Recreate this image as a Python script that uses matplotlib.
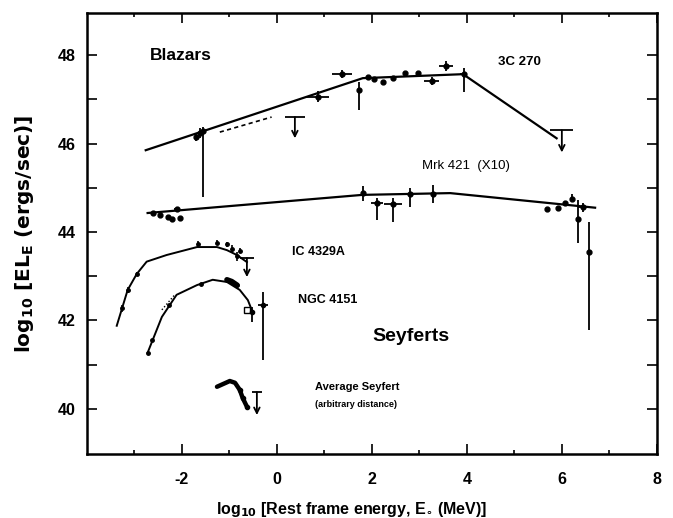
import matplotlib.pyplot as plt

plt.rcParams["font.family"] = ["Liberation Sans", "DejaVu Sans"]
plt.rcParams["font.weight"] = "bold"
plt.rcParams["axes.labelweight"] = "bold"
plt.rcParams["mathtext.default"] = "bf"

# ---- Blazars -------------------------------------------------------------
# 3C 270: broken power-law fit and measurements
c3_fit_x = [-2.76, 1.81, 3.92, 5.89]
c3_fit_y = [45.85, 47.48, 47.57, 46.12]
c3_dash_x = [-1.20, -0.11]
c3_dash_y = [46.26, 46.60]
c3_x = [-1.71, -1.62, -1.56, 0.86, 1.37, 1.73, 1.91, 2.04, 2.23, 2.44, 2.69, 2.97, 3.26, 3.56, 3.93]
c3_y = [46.15, 46.24, 46.28, 47.05, 47.57, 47.21, 47.50, 47.46, 47.39, 47.48, 47.59, 47.59, 47.41, 47.75, 47.57]
c3_xerr = [0, 0, 0, 0.24, 0.21, 0, 0, 0, 0, 0, 0, 0, 0.16, 0.14, 0.08]
c3_ylo = [0.10, 0.12, 1.49, 0.12, 0.09, 0.45, 0, 0, 0, 0, 0, 0, 0.09, 0.11, 0.41]
c3_yhi = [0.10, 0.12, 0.09, 0.15, 0.09, 0.18, 0, 0, 0, 0, 0, 0, 0.09, 0.11, 0.14]

# Mrk 421 (x10)
mrk_fit_x = [-2.72, 1.80, 3.65, 6.70]
mrk_fit_y = [44.43, 44.84, 44.88, 44.55]
mrk_x = [-2.60, -2.45, -2.30, -2.21, -2.10, -2.04, 1.81, 2.11, 2.44, 2.80, 3.28,
         5.68, 5.92, 6.06, 6.21, 6.34, 6.44, 6.57]
mrk_y = [44.42, 44.38, 44.33, 44.30, 44.52, 44.32, 44.88, 44.66, 44.63, 44.86, 44.86,
         44.52, 44.54, 44.66, 44.75, 44.29, 44.56, 43.55]
mrk_xerr = [0, 0, 0, 0, 0.06, 0, 0, 0.12, 0.19, 0, 0, 0, 0, 0, 0, 0, 0.10, 0]
mrk_ylo = [0, 0, 0, 0.08, 0.05, 0.08, 0.17, 0.39, 0.40, 0.30, 0.20, 0, 0, 0.05, 0.05, 0.54, 0.10, 1.76]
mrk_yhi = [0, 0, 0, 0, 0.05, 0, 0.17, 0.12, 0.14, 0.13, 0.20, 0, 0, 0.05, 0.12, 0.43, 0.10, 0.68]

# ---- Seyferts ------------------------------------------------------------
ic_fit_x = [-3.37, -3.14, -2.95, -2.74, -2.32, -1.68, -1.26, -1.05, -0.84, -0.63]
ic_fit_y = [41.88, 42.69, 43.05, 43.33, 43.48, 43.66, 43.66, 43.59, 43.48, 43.32]
ic_x = [-3.26, -3.14, -2.95, -1.66, -1.26, -1.05, -0.95, -0.84, -0.78]
ic_y = [42.28, 42.69, 43.05, 43.72, 43.76, 43.72, 43.62, 43.45, 43.58]
ic_yerr = [0.08, 0.06, 0.05, 0.08, 0.06, 0.06, 0.08, 0.10, 0.06]

ngc_fit_x = [-2.72, -2.42, -2.11, -1.68, -1.35, -1.05, -0.78, -0.61, -0.51]
ngc_fit_y = [41.27, 42.08, 42.58, 42.80, 42.92, 42.87, 42.69, 42.46, 42.19]
ngc_dot_x = [-2.42, -2.15]
ngc_dot_y = [42.24, 42.58]
ngc_x = [-2.72, -2.62, -2.27, -1.60, -1.05, -0.95, -0.84]
ngc_y = [41.27, 41.55, 42.35, 42.82, 42.92, 42.88, 42.80]
ngc_err_x = [-0.53, -0.29]
ngc_err_y = [42.19, 42.35]
ngc_err_xerr = [0, 0.10]
ngc_err_ylo = [0.22, 1.24]
ngc_err_yhi = [0.11, 0.29]
ngc_sq_x = [-0.63]
ngc_sq_y = [42.24]

avg_x = [-1.26, -0.99, -0.88, -0.78, -0.72, -0.63]
avg_y = [40.50, 40.63, 40.59, 40.43, 40.25, 40.05]

# upper limits: position, half width of the bar, length of the arrow
ul_x = [0.38, 6.00, -0.63, -0.42]
ul_y = [46.60, 46.30, 43.41, 40.38]
ul_half = [0.21, 0.24, 0.14, 0.11]
ul_drop = [0.48, 0.50, 0.43, 0.52]

x_ticks = [-3, -2, -1, 0, 1, 2, 3, 4, 5, 6, 7, 8]
x_labels = ["-2", "0", "2", "4", "6", "8"]
y_ticks = [40, 42, 44, 46, 48]


def draw_points(ax, x, y, xerr, ylo, yhi, ms=3.5):
    ax.errorbar(x, y, xerr=xerr, yerr=[ylo, yhi], fmt="o", color="black",
                ms=ms, elinewidth=1.3, capsize=0)


fig = plt.figure(figsize=(6.73, 5.18), dpi=100)
ax = fig.add_axes([0.129, 0.1236, 0.847, 0.851])

ax.plot(c3_fit_x, c3_fit_y, color="black", lw=1.6)
ax.plot(c3_dash_x, c3_dash_y, color="black", lw=1.2, ls=(0, (2.5, 2)))
draw_points(ax, c3_x, c3_y, c3_xerr, c3_ylo, c3_yhi)

ax.plot(mrk_fit_x, mrk_fit_y, color="black", lw=1.6)
draw_points(ax, mrk_x, mrk_y, mrk_xerr, mrk_ylo, mrk_yhi)

ax.plot(ic_fit_x, ic_fit_y, color="black", lw=1.4)
ax.errorbar(ic_x, ic_y, yerr=ic_yerr, fmt="o", color="black", ms=2.5,
            elinewidth=1.2, capsize=0)

ax.plot(ngc_fit_x, ngc_fit_y, color="black", lw=1.4)
ax.plot(ngc_dot_x, ngc_dot_y, color="black", lw=1.0, ls=(0, (1, 1.5)))
ax.plot(ngc_x, ngc_y, "o", color="black", ms=2.5)
ax.plot(ngc_x[-3:], ngc_y[-3:], color="black", lw=4, solid_capstyle="round")
draw_points(ax, ngc_err_x, ngc_err_y, ngc_err_xerr, ngc_err_ylo, ngc_err_yhi, ms=3)
ax.plot(ngc_sq_x, ngc_sq_y, "s", mfc="white", mec="black", ms=5, mew=1.0)

ax.plot(avg_x, avg_y, color="black", lw=3.2, solid_capstyle="round")
ax.plot(avg_x[3:], avg_y[3:], "o", color="black", ms=3)

for x, y, h, d in zip(ul_x, ul_y, ul_half, ul_drop):
    ax.hlines(y, x - h, x + h, color="black", lw=1.3)
    ax.annotate("", xy=(x, y - d), xytext=(x, y),
                arrowprops=dict(arrowstyle="->", color="black", lw=1.3,
                                mutation_scale=10, shrinkA=0, shrinkB=0))

ax.text(-2.67, 48.0, "Blazars", fontsize=12.5, va="center")
ax.text(4.65, 47.84, "3C 270", fontsize=9.5, va="center")
ax.text(3.05, 45.49, "Mrk 421  (X10)", fontsize=9.5, va="center", fontweight="normal")
ax.text(0.32, 43.55, "IC 4329A", fontsize=9, va="center")
ax.text(0.44, 42.46, "NGC 4151", fontsize=9, va="center")
ax.text(2.02, 41.63, "Seyferts", fontsize=14, va="center")
ax.text(0.80, 40.50, "Average Seyfert", fontsize=8, va="center")
ax.text(0.80, 40.11, "(arbitrary distance)", fontsize=6.5, va="center")

ax.set_xlim(-4, 8)
ax.set_ylim(38.98, 48.95)
ax.set_xticks(x_ticks[1::2])
ax.set_xticklabels(x_labels)
ax.set_xticks(x_ticks[::2], minor=True)
ax.set_yticks(y_ticks)
ax.set_yticks([41, 43, 45, 47], minor=True)
ax.tick_params(which="both", direction="in", top=True, right=True, width=1.2)
ax.tick_params(axis="x", which="major", length=7, labelsize=11.5, pad=13)
ax.tick_params(axis="x", which="minor", length=3)
ax.tick_params(axis="y", which="both", length=7, labelsize=11.5, pad=8)
for spine in ax.spines.values():
    spine.set_linewidth(1.8)

ax.set_xlabel(r"log$_{10}$ [Rest frame energy, E$_{\circ}$ (MeV)]", fontsize=11.5)
ax.xaxis.set_label_coords(0.465, -0.104)
ax.set_ylabel(r"log$_{10}$ [EL$_{\rm E}$ (ergs/sec)]", fontsize=14.5,
              family="DejaVu Sans")
ax.yaxis.set_label_coords(-0.09, 0.5)

fig.savefig("out.png", dpi=100)
